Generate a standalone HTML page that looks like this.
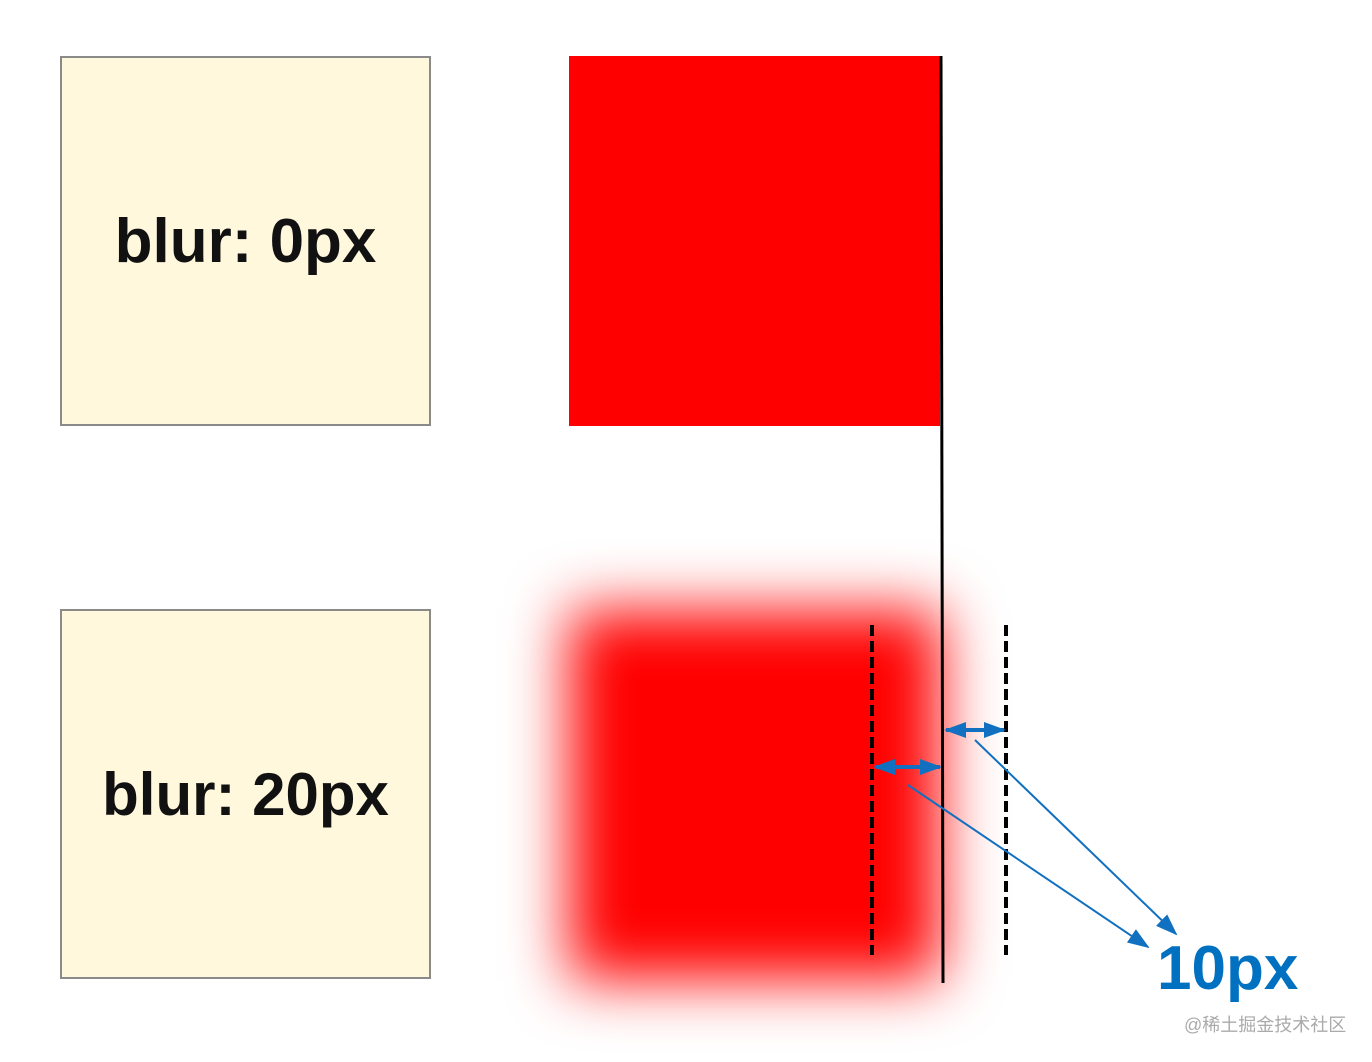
<!DOCTYPE html>
<html><head><meta charset="utf-8"><style>
body{margin:0;width:1372px;height:1062px;background:#fff;position:relative;overflow:hidden;font-family:"Liberation Sans","Noto Sans CJK SC",sans-serif}
.box{position:absolute;left:60px;width:367px;height:366px;background:#fff8dd;border:2px solid #8a8a8a;display:flex;align-items:center;justify-content:center;font-weight:bold;font-size:62px;color:#111}
.sq{position:absolute;left:569px;width:371px;height:370px;background:#ff0000}
</style></head><body>
<div class="box" style="top:56px">blur: 0px</div>
<div class="box" style="top:609px;font-size:60px">blur: 20px</div>
<div class="sq" style="top:56px"></div>
<div class="sq" style="top:610px;filter:blur(30px)"></div>
<svg width="1372" height="1062" style="position:absolute;left:0;top:0">
<defs>
<marker id="big" markerWidth="22" markerHeight="16" refX="20" refY="8" orient="auto-start-reverse" markerUnits="userSpaceOnUse"><path d="M0,0L22,8L0,16z" fill="#1170c0"/></marker>
</defs>
<line x1="941" y1="56" x2="943" y2="983" stroke="#000" stroke-width="3"/>
<line x1="872" y1="625" x2="872" y2="955" stroke="#000" stroke-width="4" stroke-dasharray="11,5"/>
<line x1="1006" y1="625" x2="1006" y2="955" stroke="#000" stroke-width="4" stroke-dasharray="11,5"/>
<line x1="875" y1="767" x2="940" y2="767" stroke="#1170c0" stroke-width="4" marker-start="url(#big)" marker-end="url(#big)"/>
<line x1="946" y1="730" x2="1004" y2="730" stroke="#1170c0" stroke-width="4" marker-start="url(#big)" marker-end="url(#big)"/>
<line x1="908" y1="785" x2="1148" y2="947" stroke="#1170c0" stroke-width="2" marker-end="url(#big)"/>
<line x1="975" y1="740" x2="1176" y2="934" stroke="#1170c0" stroke-width="2" marker-end="url(#big)"/>
<text x="1157" y="989" font-family="Liberation Sans, sans-serif" font-weight="bold" font-size="62" fill="#0070c0">10px</text>
<text x="1184" y="1031" font-family="Liberation Sans, Noto Sans CJK SC, sans-serif" font-size="18" fill="#aaa">@稀土掘金技术社区</text>
</svg>
</body></html>
